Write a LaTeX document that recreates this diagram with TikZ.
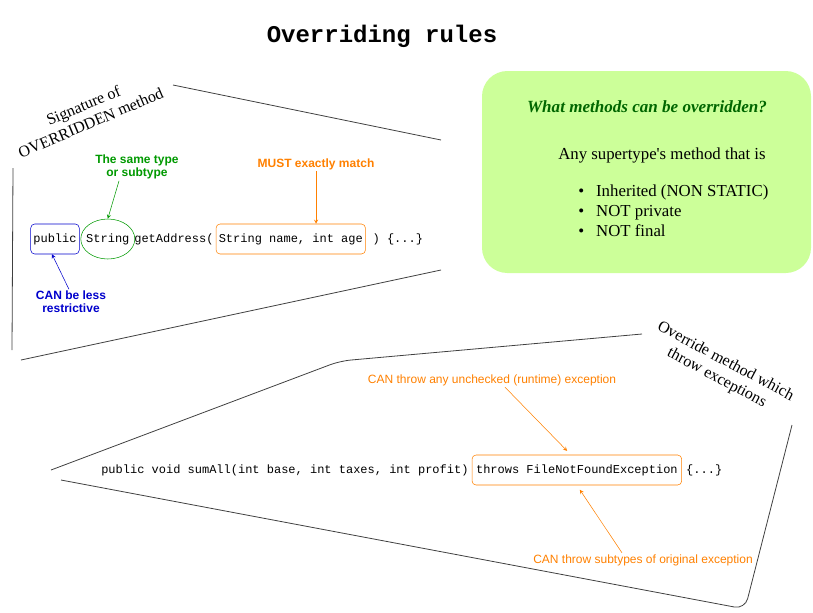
\documentclass[tikz,border=0pt]{standalone}
\usepackage{fontspec}
\setmainfont{Liberation Serif}
\setsansfont{Liberation Sans}
\setmonofont{Liberation Mono}
\usetikzlibrary{positioning,shapes.geometric,arrows.meta}

\definecolor{ruleblue}{HTML}{0000CC}
\definecolor{rulegreen}{HTML}{009900}
\definecolor{ruleorange}{HTML}{FF8000}
\definecolor{darkgreen}{HTML}{006600}
\definecolor{boxgreen}{HTML}{CCFF99}

\tikzset{
    frame/.style={draw=black!75, line width=0.6pt},
    code/.style={font=\ttfamily\fontsize{9}{11}\selectfont, inner sep=0pt,
        text height=7pt, text depth=2pt},
    markbox/.style={code, draw, rounded corners=3pt, minimum height=22.5pt, inner xsep=2pt},
    hint/.style={font=\sffamily\bfseries\fontsize{9}{10}\selectfont, align=center, inner sep=1pt},
    note/.style={font=\sffamily\fontsize{9}{10}\selectfont, text=ruleorange, inner sep=1pt},
    side/.style={font=\fontsize{12}{14}\selectfont, align=center, inner sep=0pt},
}

\begin{document}
\begin{tikzpicture}[x=0.75pt, y=-0.75pt, >=stealth]
    \useasboundingbox (0,0) rectangle (813,612);

    % Title
    \node[font=\ttfamily\bfseries\fontsize{18}{20}\selectfont] (title) at (382,36) {Overriding rules};

    % Outline around the signature
    \draw[frame] (13,168) -- (12,350);
    \draw[frame] (173,85) -- (441,140);
    \draw[frame] (21,360) -- (441,270);
    \node[side, rotate=23] (sigcap) at (87,114) {Signature of\\OVERRIDDEN method};

    % Signature line
    \node[markbox, draw=ruleblue] (pubbox) at (55,239) {public};
    \node[code, ellipse, draw=rulegreen, inner sep=-6pt, minimum width=40.5pt,
        minimum height=30pt, right=0.75pt of pubbox] (strnode) {String};
    \node[code, right=-0.75pt of strnode] (getname) {getAddress(};
    \node[markbox, draw=ruleorange, right=1.5pt of getname] (parambox) {String name, int age};
    \node[code, right=5pt of parambox] (bodyend) {) \{...\}};

    % Hints on the signature
    \node[hint, text=rulegreen] (sametype) at (137,167) {The same type\\or subtype};
    \node[hint, text=ruleorange] (mustlbl) at (316,164) {MUST exactly match};
    \node[hint, text=ruleblue] (canless) at (71,302) {CAN be less\\restrictive};

    \draw[->, rulegreen] ([xshift=-13.5pt]sametype.south) -- (strnode.north);
    \draw[->, ruleorange] (mustlbl.south) -- (mustlbl.south |- parambox.north);
    \draw[->, ruleblue] ([xshift=-1.5pt]canless.north) -- ([xshift=-2.25pt]pubbox.south);

    % What can be overridden
    \node[fill=boxgreen, rounded corners=19pt, minimum width=246.75pt,
        minimum height=151.5pt] (rulebox) at (646.5,172) {};
    \node[font=\bfseries\itshape\fontsize{12.8}{14}\selectfont, text=darkgreen] (boxtitle)
        at (647,107) {What methods can be overridden?};
    \node[font=\fontsize{12.6}{14}\selectfont, anchor=west, inner sep=0pt] (anysuper)
        at (558,155) {Any supertype\textquotesingle s method that is};
    \node[font=\fontsize{12.6}{15}\selectfont, anchor=north west, align=left, inner sep=0pt]
        (bullets) at (578,184.5) {\textbullet\hspace{9pt}Inherited (NON STATIC)\\
        \textbullet\hspace{9pt}NOT private\\
        \textbullet\hspace{9pt}NOT final};

    % Outline around the exceptions
    \draw[frame, rounded corners=8pt] (51,470) -- (340,361) -- (642,334);
    \draw[frame, rounded corners=8pt] (61,480) -- (745,609) -- (792,425);
    \node[side, rotate=-28] (exccap) at (721,370) {Override method which\\throw exceptions};

    % Exception line
    \node[code, anchor=west] (sumline) at (101,470) {public void sumAll(int base, int taxes, int profit)};
    \node[markbox, draw=ruleorange, inner xsep=3pt, right=2.25pt of sumline] (throwbox)
        {throws FileNotFoundException};
    \node[code, right=3pt of throwbox] (sumend) {\{...\}};

    \node[note] (unchk) at (492,380) {CAN throw any unchecked (runtime) exception};
    \node[note] (subtyp) at (643,560) {CAN throw subtypes of original exception};

    \draw[->, ruleorange, shorten >=4pt] ([xshift=9.75pt]unchk.south) -- ([xshift=-4.5pt]throwbox.north);
    \draw[->, ruleorange, shorten >=4pt] ([xshift=-15.75pt]subtyp.north) -- (throwbox.south);
\end{tikzpicture}
\end{document}
